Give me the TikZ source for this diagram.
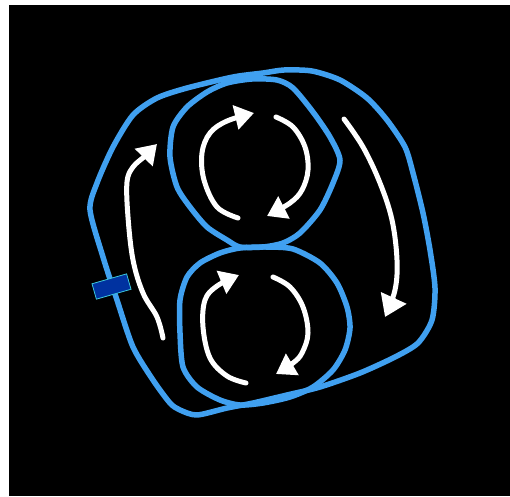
\documentclass[tikz,border=0pt]{standalone}
\usetikzlibrary{arrows.meta}
\definecolor{ringblue}{RGB}{64,160,240}
\definecolor{tagblue}{RGB}{0,50,160}
\definecolor{tagedge}{RGB}{60,200,220}
\begin{document}
\begin{tikzpicture}[x=1pt,y=-1pt,
  ring/.style={draw=ringblue,line width=5.5pt,line join=round},
  flow/.style={draw=white,line width=5pt,line cap=round,line join=round,-{Triangle[length=19pt,width=24pt]}},
  bigflow/.style={flow,-{Triangle[length=21pt,width=27pt]}}]
\fill[white] (0,0) rectangle (510,496);
\fill[black] (9,5) rectangle (510,496);
\useasboundingbox (0,0) rectangle (510,496);
% outer loop
\draw[ring] plot[smooth cycle,tension=0.45] coordinates {
 (284,70) (312,71) (340,80) (367,98) (387,120) (405,147) (413,173) (423,213)
 (430,250) (435,288) (432,320) (418,343) (395,357) (360,373) (320,387) (287,395)
 (253,403) (227,408) (197,415) (180,410) (170,403) (153,380) (133,347) (117,300)
 (103,257) (90,210) (97,183) (113,147) (133,115) (157,98) (187,88) (233,77) (263,73)};
% upper circle
\draw[ring] plot[smooth cycle,tension=0.45] coordinates {
 (252,79) (277,80) (293,88) (313,112) (330,137) (340,160) (333,183) (320,210)
 (300,233) (283,243) (263,247) (240,247) (227,240) (207,227) (190,207) (177,187)
 (170,157) (173,127) (187,107) (207,92) (227,83)};
% lower circle
\draw[ring] plot[smooth cycle,tension=0.45] coordinates {
 (267,247) (293,249) (320,263) (337,283) (347,307) (350,328) (345,350) (333,370)
 (313,387) (290,397) (263,403) (240,405) (220,400) (197,387) (183,367) (180,333)
 (180,300) (187,277) (200,263) (220,253) (240,248)};
% tag
\node[draw=tagedge,fill=tagblue,line width=0.8pt,minimum width=36pt,minimum height=16pt,
  inner sep=0pt,rotate=16] (tag) at (111.5,286.5) {};
% flows
\draw[flow] plot[smooth,tension=0.6] coordinates {
 (163,338) (157,317) (143,293) (133,260) (128,217) (127,182) (133,167) (145,156) (157,144)};
\draw[bigflow] plot[smooth,tension=0.6] coordinates {
 (344,119) (363,147) (380,183) (392,220) (397,260) (395,290) (385,317)};
\draw[flow] plot[smooth,tension=0.6] coordinates {
 (238,218) (217,207) (204,180) (202,153) (210,133) (227,121) (254,113)};
\draw[flow] plot[smooth,tension=0.6] coordinates {
 (276,117) (293,127) (305,147) (308,170) (302,190) (290,203) (267,216)};
\draw[flow] plot[smooth,tension=0.6] coordinates {
 (246,383) (227,376) (210,358) (203,327) (205,300) (217,286) (239,275)};
\draw[flow] plot[smooth,tension=0.6] coordinates {
 (273,277) (290,287) (303,307) (308,333) (302,353) (293,363) (276,374)};
\end{tikzpicture}
\end{document}
